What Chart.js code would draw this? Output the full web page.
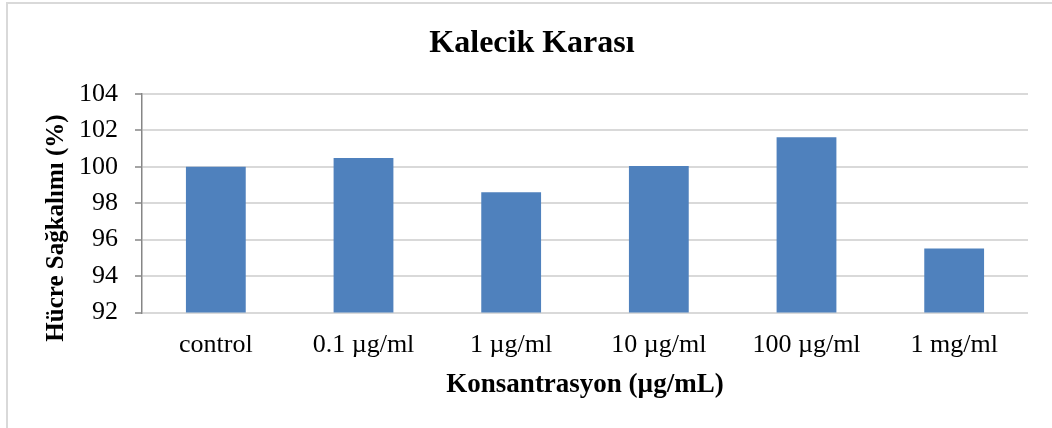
<!DOCTYPE html>
<html>
<head>
<meta charset="utf-8">
<script src="https://cdn.jsdelivr.net/npm/chart.js@4"></script>
<style>
  body { margin: 0; background: #fff; }
  #wrap { position: relative; width: 1052px; height: 428px; overflow: hidden; }
  #frame { position: absolute; left: 6px; top: 2px; width: 1100px; height: 500px; border: 2px solid #d9d9d9; box-sizing: border-box; }
  #myChart { position: absolute; left: 0; top: 0; }
</style>
</head>
<body>
<div id="wrap">
  <div id="frame"></div>
  <canvas id="myChart" width="1052" height="428"></canvas>
</div>
<script>
// chart data
const categories = ['control', '0.1 µg/ml', '1 µg/ml', '10 µg/ml', '100 µg/ml', '1 mg/ml'];
const survival = [100.0, 100.48, 98.6, 100.04, 101.63, 95.52];
const yTicks = [92, 94, 96, 98, 100, 102, 104];

const chartTitle = 'Kalecik Karası';
const xTitle = 'Konsantrasyon (µg/mL)';
const yTitle = 'Hücre Sağkalımı (%)';

const serif = "'Liberation Serif', 'Times New Roman', serif";

// y axis title drawn a bit lower than the plot centre, as in the original
const yTitlePlugin = {
    id: 'yTitle',
    afterDraw(chart) {
        const ctx = chart.ctx;
        ctx.save();
        ctx.translate(57, 228);
        ctx.rotate(-Math.PI / 2);
        ctx.font = 'bold 25px ' + serif;
        ctx.fillStyle = '#000';
        ctx.textAlign = 'center';
        ctx.textBaseline = 'middle';
        ctx.fillText(yTitle, 0, 0);
        ctx.restore();
    }
};

function createChart() {
    const ctx = document.getElementById('myChart').getContext('2d');
    new Chart(ctx, {
        type: 'bar',
        data: {
            labels: categories,
            datasets: [{
                data: survival,
                backgroundColor: '#4f81bd',
                borderWidth: 0,
                categoryPercentage: 1,
                barPercentage: 0.405
            }]
        },
        plugins: [yTitlePlugin],
        options: {
            responsive: false,
            animation: false,
            layout: { padding: { left: 36, right: 24, top: 0, bottom: 0 } },
            plugins: {
                legend: { display: false },
                tooltip: { enabled: false },
                title: {
                    display: true,
                    text: chartTitle,
                    color: '#000',
                    font: { family: serif, size: 32, weight: 'bold' },
                    padding: { top: 25, bottom: 30.6 }
                }
            },
            scales: {
                y: {
                    min: 92,
                    max: 104,
                    afterFit: function(scale) { scale.width = 106; },
                    afterBuildTicks: function(scale) {
                        scale.ticks = yTicks.map(v => ({ value: v }));
                    },
                    ticks: {
                        color: '#000',
                        padding: 17,
                        font: { family: serif, size: 26 }
                    },
                    grid: {
                        color: '#d9d9d9',
                        lineWidth: 2,
                        tickLength: 7,
                        tickColor: '#868686',
                        tickWidth: 1.5
                    },
                    border: { display: true, color: '#868686', width: 1.5 }
                },
                x: {
                    afterFit: function(scale) { scale.height = 115.5; },
                    ticks: {
                        color: '#000',
                        padding: 17,
                        font: { family: serif, size: 26 },
                        maxRotation: 0,
                        autoSkip: false
                    },
                    grid: { display: false, drawTicks: false },
                    border: { display: false },
                    title: {
                        display: true,
                        text: xTitle,
                        color: '#000',
                        font: { family: serif, size: 27, weight: 'bold' },
                        padding: { top: 0, bottom: 26.8 }
                    }
                }
            }
        }
    });
}

createChart();
</script>
</body>
</html>
